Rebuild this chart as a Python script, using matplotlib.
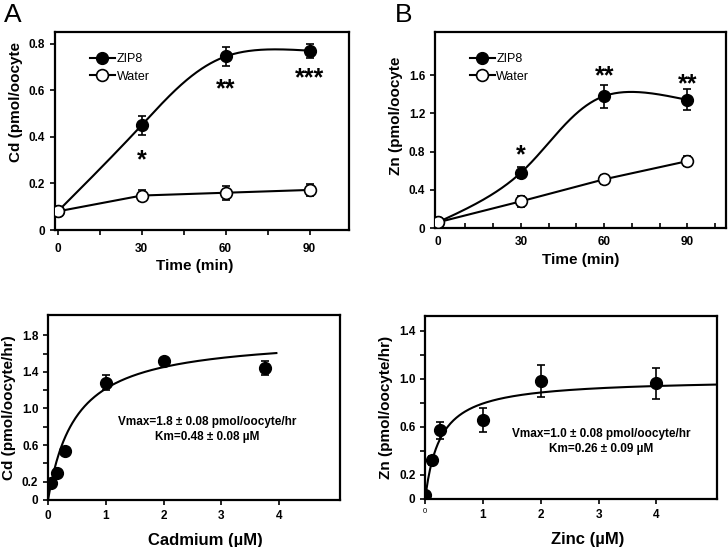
import numpy as np
import matplotlib
matplotlib.use("Agg")
import matplotlib.pyplot as plt
from matplotlib.ticker import FixedLocator

plt.rcParams["font.family"] = ["Liberation Sans", "DejaVu Sans"]
plt.rcParams["font.weight"] = "bold"

# panel A / B: uptake over time
time_min = [0, 30, 60, 90]
cd_zip8 = [0.08, 0.45, 0.745, 0.77]
cd_zip8_err = [0.0, 0.04, 0.04, 0.03]
cd_water = [0.08, 0.148, 0.16, 0.172]
cd_water_err = [0.0, 0.025, 0.03, 0.025]
cd_stars = ["*", "**", "***"]
cd_star_y = [0.30, 0.605, 0.652]

zn_zip8 = [0.06, 0.58, 1.38, 1.34]
zn_zip8_err = [0.0, 0.06, 0.12, 0.11]
zn_water = [0.06, 0.28, 0.51, 0.70]
zn_water_err = [0.0, 0.06, 0.05, 0.05]
zn_stars = ["*", "**", "**"]
zn_star_y = [0.76, 1.59, 1.50]

# panel C / D: concentration dependence
cd_conc = [0.05, 0.15, 0.3, 1.0, 2.0, 3.75]
cd_rate = [0.19, 0.29, 0.54, 1.28, 1.52, 1.44]
cd_rate_err = [0.02, 0.03, 0.03, 0.08, 0.03, 0.08]
cd_vmax, cd_km = 1.8, 0.48
cd_fit_text = "Vmax=1.8 ± 0.08 pmol/oocyte/hr\nKm=0.48 ± 0.08 µM"

zn_conc = [0.0, 0.125, 0.25, 1.0, 2.0, 4.0]
zn_rate = [0.03, 0.32, 0.57, 0.66, 0.98, 0.96]
zn_rate_err = [0.0, 0.04, 0.07, 0.10, 0.13, 0.13]
zn_vmax, zn_km = 1.0, 0.26
zn_fit_text = "Vmax=1.0 ± 0.08 pmol/oocyte/hr\nKm=0.26 ± 0.09 µM"


def natural_spline(t, y, ts):
    t = np.asarray(t, float)
    y = np.asarray(y, float)
    k = len(t)
    h = np.diff(t)
    A = np.zeros((k, k))
    b = np.zeros(k)
    A[0, 0] = A[-1, -1] = 1
    for i in range(1, k - 1):
        A[i, i - 1] = h[i - 1]
        A[i, i] = 2 * (h[i - 1] + h[i])
        A[i, i + 1] = h[i]
        b[i] = 3 * ((y[i + 1] - y[i]) / h[i] - (y[i] - y[i - 1]) / h[i - 1])
    c = np.linalg.solve(A, b)
    idx = np.clip(np.searchsorted(t, ts) - 1, 0, k - 2)
    dx = ts - t[idx]
    bb = (y[idx + 1] - y[idx]) / h[idx] - h[idx] * (2 * c[idx] + c[idx + 1]) / 3
    dd = (c[idx + 1] - c[idx]) / (3 * h[idx])
    return y[idx] + bb * dx + c[idx] * dx ** 2 + dd * dx ** 3


def smooth_curve(ax, x, y):
    # parametric spline through the points, parametrised by on-screen chord length
    fig = ax.figure
    bbox = ax.get_position()
    w = bbox.width * fig.get_figwidth()
    h = bbox.height * fig.get_figheight()
    x0, x1 = ax.get_xlim()
    y0, y1 = ax.get_ylim()
    sx = np.asarray(x, float) / (x1 - x0) * w
    sy = np.asarray(y, float) / (y1 - y0) * h
    t = np.concatenate([[0], np.cumsum(np.hypot(np.diff(sx), np.diff(sy)))])
    ts = np.linspace(0, t[-1], 300)
    return natural_spline(t, x, ts), natural_spline(t, y, ts)


def style_axes(ax):
    for s in ax.spines.values():
        s.set_linewidth(1.6)
    ax.tick_params(labelsize=8.5, width=1.2, length=3.5)
    ax.tick_params(which="minor", width=1.2, length=3.5)


def time_panel(ax, zip8, zip8_err, water, water_err, stars, star_y, ylim, yticks, ylabel,
               tickdir, xlab_x, ylab_y):
    ax.set_xlim(-1, 104)
    ax.set_ylim(*ylim)
    xs, ys = smooth_curve(ax, time_min, zip8)
    ax.plot(xs, ys, color="black", lw=1.5, zorder=2)
    ax.plot(time_min, water, color="black", lw=1.5, zorder=2)
    ax.errorbar(time_min, zip8, yerr=zip8_err, fmt="o", color="black", ms=8.5,
                capsize=3, elinewidth=1.2, capthick=1.2, zorder=3)
    ax.errorbar(time_min, water, yerr=water_err, fmt="o", color="black", mfc="white",
                mec="black", mew=1.2, ms=8.5, capsize=3, elinewidth=1.2, capthick=1.2, zorder=3)
    for t, s, y in zip(time_min[1:], stars, star_y):
        ax.text(t, y, s, ha="center", va="center", fontsize=18, fontweight="bold")
    ax.set_xticks([0, 30, 60, 90])
    ax.set_yticks(yticks)
    ax.set_yticklabels(["0" if v == 0 else f"{v:.1f}" for v in yticks])
    ax.set_xlabel("Time (min)", fontsize=11, fontweight="bold", labelpad=3)
    ax.set_ylabel(ylabel, fontsize=11, fontweight="bold")
    ax.xaxis.label.set_x(xlab_x)
    ax.yaxis.label.set_y(ylab_y)
    style_axes(ax)
    ax.tick_params(axis="x", which="both", direction=tickdir, pad=6)
    h1 = ax.plot([], [], "-o", color="black", ms=8.5, lw=1.5)[0]
    h2 = ax.plot([], [], "-o", color="black", mfc="white", mew=1.2, ms=8.5, lw=1.5)[0]
    ax.legend([h1, h2], ["ZIP8", "Water"], loc="upper left", bbox_to_anchor=(0.08, 0.95),
              frameon=False, handlelength=2.0, handletextpad=0.15, labelspacing=0.45,
              prop={"size": 9, "weight": "normal"})


def conc_panel(ax, conc, rate, rate_err, vmax, km, xmax_curve, ylim, yticks, minor,
               xlabel, ylabel, fit_text, text_xy, zero_small, xlab_x):
    xs = np.linspace(0, xmax_curve, 300)
    ax.plot(xs, vmax * xs / (km + xs), color="black", lw=1.5, zorder=2)
    ax.errorbar(conc, rate, yerr=rate_err, fmt="o", color="black", ms=8.5,
                capsize=3, elinewidth=1.2, capthick=1.2, zorder=3)
    ax.set_xlim(0, 5.05)
    ax.set_ylim(*ylim)
    ax.set_xticks([0, 1, 2, 3, 4])
    if zero_small:
        ax.set_xticklabels(["", "1", "2", "3", "4"])
        ax.text(0, -0.05, "0", transform=ax.get_xaxis_transform(), ha="center", va="top",
                fontsize=5.5, fontweight="normal")
    ax.set_yticks(yticks)
    ax.set_yticklabels(["0" if v == 0 else f"{v:.1f}" for v in yticks])
    ax.set_yticks(minor, minor=True)
    ax.set_xlabel(xlabel, fontsize=12, fontweight="bold", labelpad=8)
    ax.set_ylabel(ylabel, fontsize=11, fontweight="bold")
    ax.xaxis.label.set_x(xlab_x)
    style_axes(ax)
    ax.text(text_xy[0], text_xy[1], fit_text, ha="center", va="center",
            fontsize=8.5, fontweight="bold", linespacing=1.35)


fig = plt.figure(figsize=(7.28, 5.47), dpi=100)
axA = fig.add_axes([0.0755, 0.5795, 0.4035, 0.362])
axB = fig.add_axes([0.5975, 0.583, 0.4, 0.3585])
axC = fig.add_axes([0.066, 0.086, 0.401, 0.338])
axD = fig.add_axes([0.584, 0.088, 0.401, 0.334])

time_panel(axA, cd_zip8, cd_zip8_err, cd_water, cd_water_err, cd_stars, cd_star_y,
           (0, 0.85), [0, 0.2, 0.4, 0.6, 0.8], "Cd (pmol/oocyte", "out", 0.476, 0.646)
axA.xaxis.set_minor_locator(FixedLocator([15, 45, 75]))
time_panel(axB, zn_zip8, zn_zip8_err, zn_water, zn_water_err, zn_stars, zn_star_y,
           (0, 2.05), [0, 0.4, 0.8, 1.2, 1.6], "Zn (pmol/oocyte", "in", 0.5, 0.571)
axB.xaxis.set_minor_locator(FixedLocator([10, 20, 40, 50, 70, 80, 100]))

conc_panel(axC, cd_conc, cd_rate, cd_rate_err, cd_vmax, cd_km, 3.95, (0, 2.02),
           [0, 0.2, 0.6, 1.0, 1.4, 1.8], [0.4, 0.8, 1.2, 1.6],
           "Cadmium (µM)", "Cd (pmol/oocyte/hr)", cd_fit_text, (2.75, 0.77), False, 0.538)
conc_panel(axD, zn_conc, zn_rate, zn_rate_err, zn_vmax, zn_km, 5.05, (0, 1.52),
           [0, 0.2, 0.6, 1.0, 1.4], [0.4, 0.8, 1.2],
           "Zinc (µM)", "Zn (pmol/oocyte/hr)", zn_fit_text, (3.04, 0.48), True, 0.558)

fig.text(0.005, 0.995, "A", fontsize=19, fontweight="normal", va="top", ha="left")
fig.text(0.543, 0.995, "B", fontsize=19, fontweight="normal", va="top", ha="left")

fig.savefig("out.png", dpi=100)
